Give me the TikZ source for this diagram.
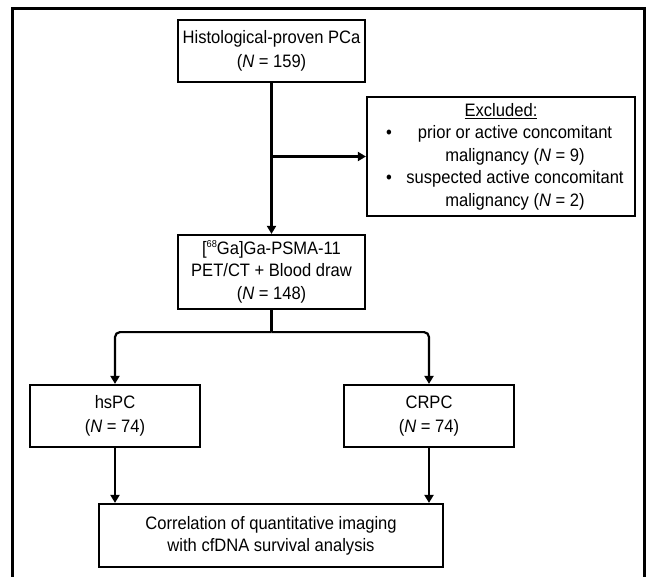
\documentclass[tikz,border=0pt]{standalone}
\usepackage{fontspec}
\setmainfont{Liberation Sans}[FakeStretch=0.92]
\usetikzlibrary{arrows.meta}
\newcommand\bulline[1]{\hbox to 268pt{\hskip 19pt\makebox[14pt][l]{\textbullet}\hbox to 230pt{\hfil #1\hfil}\hss}}
\newcommand\contline[1]{\hbox to 268pt{\hskip 33pt\hbox to 230pt{\hfil #1\hfil}\hss}}
\begin{document}
\begin{tikzpicture}[x=1pt,y=-1pt,
  box/.style={draw, line width=2.2pt, rectangle, inner sep=0pt, align=center,
    font=\fontsize{18}{23.5}\selectfont},
  conn/.style={line width=2.2pt, -{Triangle[width=9pt,length=8pt]}},
  plain/.style={line width=2.2pt}]
\useasboundingbox (0,0) rectangle (650,577);
\draw[line width=3pt] (12,580) -- (12,9) -- (644,9) -- (644,580);

\node[box, minimum width=187pt, minimum height=62pt] (top) at (271.5,51)
  {Histological-proven PCa\\(\textit{N} = 159)};
\node[box, minimum width=268pt, minimum height=119pt, align=left,
  font=\fontsize{18}{22.5}\selectfont] (excl) at (501,156.5)
  {\hbox to 268pt{\hfil\underline{Excluded:}\hfil}\\
   \bulline{prior or active concomitant}\\
   \contline{malignancy (\textit{N} = 9)}\\
   \bulline{suspected active concomitant}\\
   \contline{malignancy (\textit{N} = 2)}};
\node[box, minimum width=187pt, minimum height=74pt,
  font=\fontsize{18}{22.5}\selectfont] (psma) at (271.5,272)
  {[\raisebox{6.5pt}{\fontsize{10}{10}\selectfont 68}Ga]Ga-PSMA-11\\PET/CT + Blood draw\\(\textit{N} = 148)};
\node[box, minimum width=170pt, minimum height=62pt] (hspc) at (115,416)
  {hsPC\\(\textit{N} = 74)};
\node[box, minimum width=170pt, minimum height=62pt] (crpc) at (429,416)
  {CRPC\\(\textit{N} = 74)};
\node[box, minimum width=344pt, minimum height=63pt,
  font=\fontsize{18}{22}\selectfont] (corr) at (271,535.5)
  {Correlation of quantitative imaging\\with cfDNA survival analysis};

\draw[conn] (top.south) -- (psma.north);
\coordinate (j1) at (top.south |- excl.west);
\draw[conn] (j1) -- (excl.west);
\path (psma.south) ++(0,22) coordinate (split);
\draw[plain] (psma.south) -- (split);
\draw[conn, rounded corners=5pt] (split) -| (hspc.north);
\draw[conn, rounded corners=5pt] (split) -| (crpc.north);
\draw[conn] (hspc.south) -- (hspc.south |- corr.north);
\draw[conn] (crpc.south) -- (crpc.south |- corr.north);
\end{tikzpicture}
\end{document}
